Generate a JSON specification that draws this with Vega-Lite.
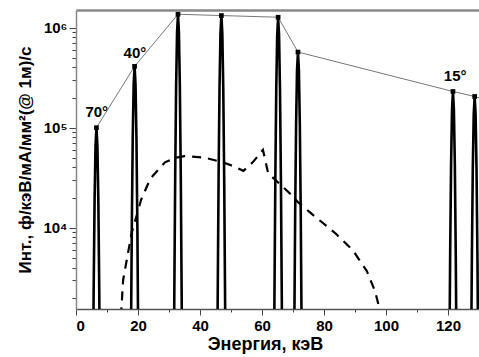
{
  "$schema": "https://vega.github.io/schema/vega-lite/v6.json",
  "autosize": {"type": "none"},
  "padding": {"left": 76, "top": 10, "right": 0, "bottom": 48},
  "width": 403,
  "height": 299,
  "background": "white",
  "config": {
    "view": {"stroke": null},
    "font": "Liberation Sans",
    "axis": {"labelFont": "Liberation Sans", "labelFontWeight": "bold", "labelColor": "black", "titleFont": "Liberation Sans", "titleFontWeight": "bold", "titleColor": "black", "grid": false, "tickColor": "#444", "domainColor": "#666", "domainWidth": 1.5}
  },
  "datasets": {
    "peaks": [
      {"id": 1, "x": 5.1, "y": 3.3}, {"id": 1, "x": 5.4, "y": 135}, {"id": 1, "x": 5.7, "y": 2430}, {"id": 1, "x": 6.0, "y": 19200}, {"id": 1, "x": 6.3, "y": 66200}, {"id": 1, "x": 6.6, "y": 100000}, {"id": 1, "x": 6.9, "y": 66200}, {"id": 1, "x": 7.2, "y": 19200}, {"id": 1, "x": 7.5, "y": 2430}, {"id": 1, "x": 7.8, "y": 135}, {"id": 1, "x": 8.1, "y": 3.3},
      {"id": 2, "x": 17.4, "y": 13.5}, {"id": 2, "x": 17.7, "y": 554}, {"id": 2, "x": 18.0, "y": 9960}, {"id": 2, "x": 18.3, "y": 78700}, {"id": 2, "x": 18.6, "y": 271000}, {"id": 2, "x": 18.9, "y": 410000}, {"id": 2, "x": 19.2, "y": 271000}, {"id": 2, "x": 19.5, "y": 78700}, {"id": 2, "x": 19.8, "y": 9960}, {"id": 2, "x": 20.1, "y": 554}, {"id": 2, "x": 20.4, "y": 13.5},
      {"id": 3, "x": 31.4, "y": 45}, {"id": 3, "x": 31.7, "y": 1836}, {"id": 3, "x": 32.0, "y": 33000}, {"id": 3, "x": 32.3, "y": 261000}, {"id": 3, "x": 32.6, "y": 900000}, {"id": 3, "x": 32.9, "y": 1360000}, {"id": 3, "x": 33.2, "y": 900000}, {"id": 3, "x": 33.5, "y": 261000}, {"id": 3, "x": 33.8, "y": 33000}, {"id": 3, "x": 34.1, "y": 1836}, {"id": 3, "x": 34.4, "y": 45},
      {"id": 4, "x": 45.4, "y": 44}, {"id": 4, "x": 45.7, "y": 1782}, {"id": 4, "x": 46.0, "y": 32100}, {"id": 4, "x": 46.3, "y": 253000}, {"id": 4, "x": 46.6, "y": 874000}, {"id": 4, "x": 46.9, "y": 1320000}, {"id": 4, "x": 47.2, "y": 874000}, {"id": 4, "x": 47.5, "y": 253000}, {"id": 4, "x": 47.8, "y": 32100}, {"id": 4, "x": 48.1, "y": 1782}, {"id": 4, "x": 48.4, "y": 44},
      {"id": 5, "x": 63.7, "y": 42}, {"id": 5, "x": 64.0, "y": 1715}, {"id": 5, "x": 64.3, "y": 30900}, {"id": 5, "x": 64.6, "y": 244000}, {"id": 5, "x": 64.9, "y": 841000}, {"id": 5, "x": 65.2, "y": 1270000}, {"id": 5, "x": 65.5, "y": 841000}, {"id": 5, "x": 65.8, "y": 244000}, {"id": 5, "x": 66.1, "y": 30900}, {"id": 5, "x": 66.4, "y": 1715}, {"id": 5, "x": 66.7, "y": 42},
      {"id": 6, "x": 70.1, "y": 19}, {"id": 6, "x": 70.4, "y": 770}, {"id": 6, "x": 70.7, "y": 13900}, {"id": 6, "x": 71.0, "y": 109000}, {"id": 6, "x": 71.3, "y": 377000}, {"id": 6, "x": 71.6, "y": 570000}, {"id": 6, "x": 71.9, "y": 377000}, {"id": 6, "x": 72.2, "y": 109000}, {"id": 6, "x": 72.5, "y": 13900}, {"id": 6, "x": 72.8, "y": 770}, {"id": 6, "x": 73.1, "y": 19},
      {"id": 7, "x": 120.1, "y": 7.6}, {"id": 7, "x": 120.4, "y": 311}, {"id": 7, "x": 120.7, "y": 5590}, {"id": 7, "x": 121.0, "y": 44200}, {"id": 7, "x": 121.3, "y": 152000}, {"id": 7, "x": 121.6, "y": 230000}, {"id": 7, "x": 121.9, "y": 152000}, {"id": 7, "x": 122.2, "y": 44200}, {"id": 7, "x": 122.5, "y": 5590}, {"id": 7, "x": 122.8, "y": 311}, {"id": 7, "x": 123.1, "y": 7.6},
      {"id": 8, "x": 127.1, "y": 6.8}, {"id": 8, "x": 127.4, "y": 277}, {"id": 8, "x": 127.7, "y": 4980}, {"id": 8, "x": 128.0, "y": 39400}, {"id": 8, "x": 128.3, "y": 136000}, {"id": 8, "x": 128.6, "y": 205000}, {"id": 8, "x": 128.9, "y": 136000}, {"id": 8, "x": 129.2, "y": 39400}, {"id": 8, "x": 129.5, "y": 4980}, {"id": 8, "x": 129.8, "y": 277}, {"id": 8, "x": 130.1, "y": 6.8}
    ],
    "tops": [
      {"x": 6.6, "y": 100000}, {"x": 18.9, "y": 410000}, {"x": 32.9, "y": 1360000}, {"x": 46.9, "y": 1320000}, {"x": 65.2, "y": 1270000}, {"x": 71.6, "y": 570000}, {"x": 121.6, "y": 230000}, {"x": 128.6, "y": 205000}
    ],
    "envelope": [
      {"x": 6.6, "y": 100000}, {"x": 18.9, "y": 410000}, {"x": 32.9, "y": 1360000}, {"x": 46.9, "y": 1320000}, {"x": 65.2, "y": 1270000}, {"x": 71.6, "y": 570000}, {"x": 121.6, "y": 230000}, {"x": 128.6, "y": 205000}, {"x": 130, "y": 198000}
    ],
    "brems": [
      {"x": 14.5, "y": 1300}, {"x": 15.2, "y": 3000}, {"x": 16.5, "y": 5000}, {"x": 18, "y": 9000}, {"x": 19.5, "y": 13000}, {"x": 21, "y": 19000}, {"x": 24, "y": 31000}, {"x": 28.7, "y": 45000}, {"x": 32, "y": 50000}, {"x": 35, "y": 52000}, {"x": 41.6, "y": 50000}, {"x": 47.4, "y": 45000}, {"x": 51, "y": 41000}, {"x": 54, "y": 37000}, {"x": 57, "y": 45000}, {"x": 60.3, "y": 60000}, {"x": 62, "y": 35000}, {"x": 66.5, "y": 26000}, {"x": 69, "y": 22000}, {"x": 71.6, "y": 18000}, {"x": 77, "y": 13000}, {"x": 83.5, "y": 8900}, {"x": 89.4, "y": 5900}, {"x": 93.8, "y": 3700}, {"x": 96.5, "y": 2300}, {"x": 98, "y": 1500}, {"x": 99, "y": 1200}
    ],
    "labels": [
      {"x": 6.7, "y": 145000, "t": "70°"}, {"x": 19.0, "y": 560000, "t": "40°"}, {"x": 122.3, "y": 325000, "t": "15°"}
    ]
  },
  "resolve": {"axis": {"x": "independent"}},
  "layer": [
    {
      "data": {"name": "envelope"},
      "mark": {"type": "line", "color": "#777", "strokeWidth": 1, "clip": true},
      "encoding": {
        "x": {"field": "x", "type": "quantitative", "scale": {"domain": [0, 130], "nice": false, "zero": false},
          "axis": {"orient": "top", "labels": false, "ticks": false, "title": null, "domainColor": "#888", "domainWidth": 2.5}},
        "y": {"field": "y", "type": "quantitative", "scale": {"type": "log", "domain": [1540, 1500000], "nice": false},
          "axis": {"orient": "left", "values": [2000,3000,4000,5000,6000,7000,8000,9000,10000,20000,30000,40000,50000,60000,70000,80000,90000,100000,200000,300000,400000,500000,600000,700000,800000,900000,1000000],
            "labelExpr": "datum.value == 10000 ? '10⁴' : datum.value == 100000 ? '10⁵' : datum.value == 1000000 ? '10⁶' : ''",
            "tickSize": {"condition": {"test": "datum.value == 10000 || datum.value == 100000 || datum.value == 1000000", "value": 7}, "value": 4},
            "labelFontSize": 15, "labelPadding": 2, "domainColor": "#888",
            "title": "Инт., ф/кэВ/мА/мм²(@ 1м)/с", "titleFontSize": 17, "titlePadding": 8}}
      }
    },
    {
      "data": {"name": "peaks"},
      "mark": {"type": "line", "color": "black", "strokeWidth": 2.6, "clip": true, "strokeJoin": "miter"},
      "encoding": {
        "x": {"field": "x", "type": "quantitative",
          "axis": {"orient": "bottom", "values": [0,10,20,30,40,50,60,70,80,90,100,110,120],
            "labelExpr": "datum.value % 20 == 0 ? datum.label : ''",
            "tickSize": {"condition": {"test": "datum.value % 20 == 0", "value": 6}, "value": 3},
            "labelFontSize": 15, "labelPadding": 3, "domainColor": "#555",
            "title": "Энергия, кэВ", "titleFontSize": 18, "titlePadding": 2, "titleX": 189}},
        "y": {"field": "y", "type": "quantitative"},
        "detail": {"field": "id"},
        "order": {"field": "x"}
      }
    },
    {
      "data": {"name": "brems"},
      "mark": {"type": "line", "color": "black", "strokeWidth": 2.2, "strokeDash": [9, 7], "clip": true},
      "encoding": {
        "x": {"field": "x", "type": "quantitative", "axis": null},
        "y": {"field": "y", "type": "quantitative"}
      }
    },
    {
      "data": {"name": "tops"},
      "mark": {"type": "square", "color": "black", "size": 22, "opacity": 1},
      "encoding": {
        "x": {"field": "x", "type": "quantitative", "axis": null},
        "y": {"field": "y", "type": "quantitative"}
      }
    },
    {
      "data": {"name": "labels"},
      "mark": {"type": "text", "font": "Liberation Sans", "fontWeight": "bold", "fontSize": 15, "align": "center", "baseline": "middle", "color": "black"},
      "encoding": {
        "x": {"field": "x", "type": "quantitative", "axis": null},
        "y": {"field": "y", "type": "quantitative"},
        "text": {"field": "t"}
      }
    }
  ]
}
